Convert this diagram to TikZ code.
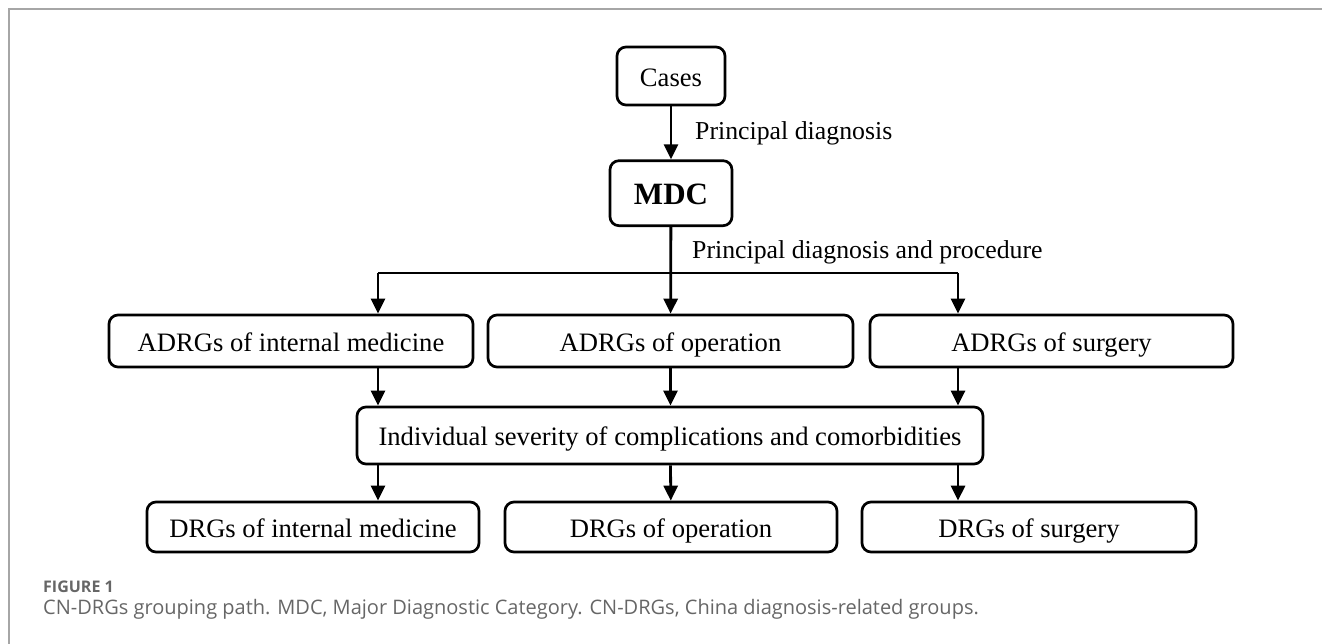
\documentclass[tikz,border=0pt]{standalone}
\usepackage{fontspec}
\setmainfont{Liberation Serif}
\newfontfamily\capfont{Open Sans}
\usetikzlibrary{arrows.meta, positioning}

\tikzset{
    box/.style={draw, rounded corners=9pt, line width=2.7pt, inner sep=0pt,
        text height=20.5pt, text depth=0pt, font=\fontsize{26.6}{30}\selectfont},
    arr/.style={line width=2.8pt, -{Triangle[length=15pt,width=14pt]}},
    lbl/.style={anchor=west, inner sep=0pt, font=\fontsize{25.8}{30}\selectfont},
}

\begin{document}
\begin{tikzpicture}[x=1pt, y=-1pt]
    \useasboundingbox (0,0) rectangle (1322,644);
    \draw[black!35, line width=2pt] (9,644) -- (9,9) -- (1322,9);

    \node[box, minimum width=108pt, minimum height=58pt] (cases) at (671,76) {Cases};
    \node[box, minimum width=122pt, minimum height=65pt, below=53pt of cases, text height=23pt,
          font=\fontsize{31}{34}\selectfont\bfseries] (mdc) {MDC};

    \node[box, minimum width=365pt, minimum height=52pt] (adrgM) at (670.5,341) {ADRGs of operation};
    \node[box, minimum width=364pt, minimum height=52pt] (adrgL) at (291,341) {ADRGs of internal medicine};
    \node[box, minimum width=363pt, minimum height=52pt] (adrgR) at (1051.5,341) {ADRGs of surgery};

    \node[box, minimum width=626pt, minimum height=57pt] (sev) at (670,435.5)
        {Individual severity of complications and comorbidities};

    \node[box, minimum width=332pt, minimum height=50pt] (drgL) at (313,527) {DRGs of internal medicine};
    \node[box, minimum width=332pt, minimum height=50pt] (drgM) at (671,527) {DRGs of operation};
    \node[box, minimum width=334pt, minimum height=50pt] (drgR) at (1029,527) {DRGs of surgery};

    % split points of the branch line
    \coordinate (sl) at (378,273);
    \coordinate (sr) at (958,273);

    \node[lbl] (pd) at (695,133) {Principal diagnosis};
    \node[lbl] (pdp) at (692,252) {Principal diagnosis and procedure};

    \draw[arr] (cases) -- (mdc);
    \draw[arr] (mdc) -- (adrgM);
    \draw[line width=1.8pt] (sl) -- (sr);
    \draw[arr] (sl) -- (sl |- adrgL.north);
    \draw[arr] (sr) -- (sr |- adrgR.north);

    \draw[arr] (adrgL.south -| sl) -- (sev.north -| sl);
    \draw[arr] (adrgM) -- (sev.north -| adrgM);
    \draw[arr] (adrgR.south -| sr) -- (sev.north -| sr);

    \draw[arr] (sev.south -| sl) -- (drgL.north -| sl);
    \draw[arr] (sev.south -| adrgM) -- (drgM);
    \draw[arr] (sev.south -| sr) -- (drgR.north -| sr);

    % caption
    \node[anchor=west, inner sep=0pt, text=black!60, font=\capfont\bfseries\fontsize{16}{18}\selectfont]
        (fig) at (43,587) {FIGURE 1};
    \node[anchor=west, inner sep=0pt, text=black!60, font=\capfont\fontsize{20}{24}\selectfont]
        (cap) at (43,609) {CN-DRGs grouping path. MDC, Major Diagnostic Category. CN-DRGs, China diagnosis-related groups.};
\end{tikzpicture}
\end{document}
